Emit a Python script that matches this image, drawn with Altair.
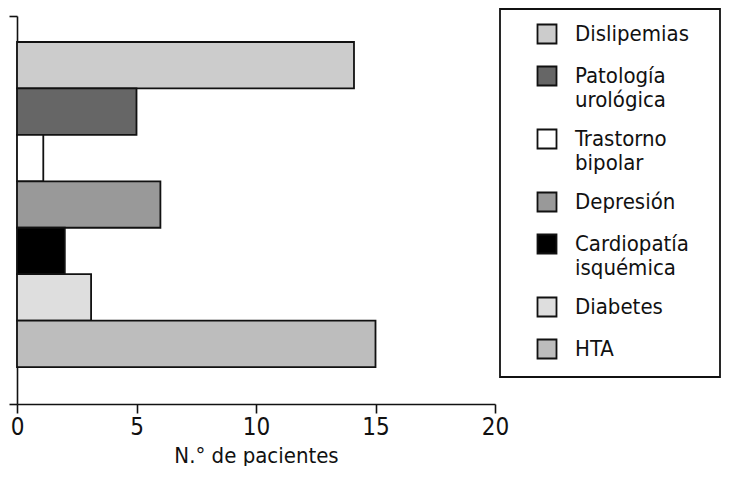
import altair as alt
import pandas as pd

categories = ["Dislipemias", "Patología\nurológica", "Trastorno\nbipolar", "Depresión",
              "Cardiopatía\nisquémica", "Diabetes", "HTA"]
patients = [14.1, 5, 1.1, 6, 2, 3.1, 15]
colors = ["#cccccc", "#666666", "#ffffff", "#999999", "#000000", "#dedede", "#bdbdbd"]
x_ticks = [0, 5, 10, 15, 20]
frame_values = [0, 1]

FONT = "DejaVu Sans Condensed"

df = pd.DataFrame({"cat": categories, "n": patients})
frame_df = pd.DataFrame({"f": frame_values})

bars = alt.Chart(df).mark_bar(stroke="#111111", strokeWidth=1.8).encode(
    x=alt.X("n:Q",
            scale=alt.Scale(domain=[0, 20], nice=False),
            axis=alt.Axis(values=x_ticks, title="N.° de pacientes", grid=False,
                          tickSize=9, labelPadding=2, titlePadding=6,
                          labelFlush=False)),
    y=alt.Y("cat:N", sort=categories,
            scale=alt.Scale(paddingInner=0, paddingOuter=0.678, align=0.413),
            axis=None),
    color=alt.Color("cat:N", sort=categories,
                    scale=alt.Scale(domain=categories, range=colors),
                    legend=alt.Legend(
                        title=" ", titleOrient="right", titleFontSize=30,
                        titlePadding=17,
                        orient="none", legendX=483, legendY=-7,
                        strokeColor="#111111", padding=14, symbolOffset=22,
                        symbolType="square", symbolSize=361,
                        symbolStrokeColor="#111111", symbolStrokeWidth=1.8,
                        symbolOpacity=1,
                        labelOffset=17, labelLimit=400, rowPadding=14,
                        labelExpr="split(datum.label, '\\n')")),
)

frame = alt.Chart(frame_df).mark_point(opacity=0).encode(
    y=alt.Y("f:Q", scale=alt.Scale(domain=[0, 1], nice=False),
            axis=alt.Axis(values=frame_values, labels=False, tickSize=8, title=None,
                          grid=False, orient="left"))
)

chart = alt.layer(bars, frame).resolve_scale(y="independent").properties(
    width=478, height=388,
    padding={"left": 0, "top": 0, "right": 0, "bottom": 0},
).configure_view(stroke=None).configure_axis(
    domainColor="#111111", domainWidth=1.6, tickColor="#111111", tickWidth=1.6,
    labelFont=FONT, labelFontSize=24, labelColor="#111111",
    titleFont=FONT, titleFontSize=22, titleFontWeight="normal", titleColor="#111111",
).configure_legend(
    labelFont=FONT, labelFontSize=22, labelColor="#111111", strokeWidth=1.8,
)

chart.save("out.html", embed_options={"renderer": "svg", "actions": False})
